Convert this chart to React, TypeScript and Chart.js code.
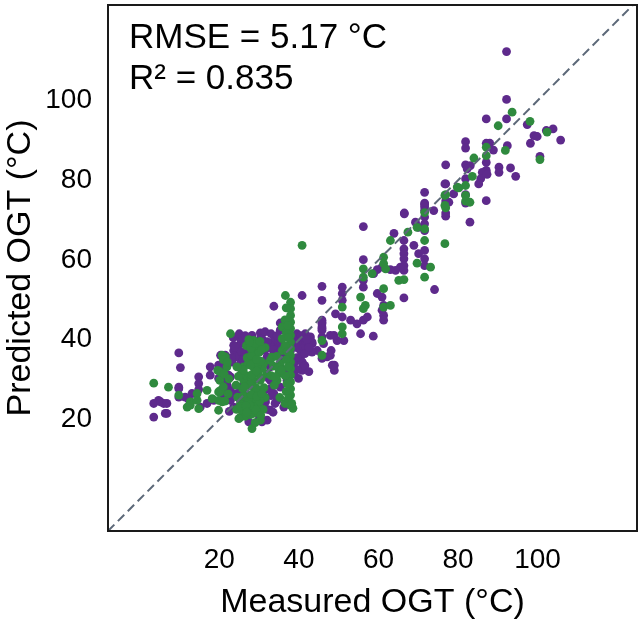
import React, { useEffect, useRef } from 'react';
import { Chart, registerables } from 'chart.js';

Chart.register(...registerables);

const TICKS = [20, 40, 60, 80, 100];
const X_RANGE = [-8, 125];
const Y_RANGE = [-8, 124];
const DIAG = [-8, 125];
const X_TITLE = 'Measured OGT (°C)';
const Y_TITLE = 'Predicted OGT (°C)';
const STAT_LINES = ['RMSE = 5.17 °C', 'R² = 0.835'];

const purplePts: [number, number][] = [
  [92.2, 112.3], [92.2, 100.3], [87.1, 95.4], [92.2, 95.4], [97.4, 94.0], [99.1, 91.2], [99.9, 91.0],
  [98.2, 89.3], [102.2, 92.5], [103.9, 92.9], [105.8, 90.1], [100.6, 86.0], [81.9, 89.7], [81.9, 88.1],
  [87.1, 89.3], [88.0, 89.3], [88.9, 87.6], [92.4, 88.7], [81.9, 83.9], [83.1, 83.7], [82.3, 82.9],
  [87.1, 84.5], [87.1, 82.5], [86.1, 82.0], [87.3, 81.5], [90.3, 83.3], [90.3, 82.0], [93.2, 83.1],
  [94.5, 81.0], [85.7, 80.4], [85.2, 79.1], [76.9, 83.9], [76.9, 79.1], [81.9, 80.4], [78.9, 76.6],
  [81.9, 76.4], [81.9, 74.3], [87.1, 74.9], [71.6, 77.0], [71.6, 74.3], [71.6, 73.3], [76.9, 74.8],
  [77.7, 74.5], [73.9, 72.4], [66.5, 71.8], [76.9, 71.8], [76.9, 71.0],
  [76.7, 79.1], [71.6, 73.9], [71.6, 72.4], [66.5, 71.6], [71.6, 70.8], [71.6, 69.1], [71.6, 67.4],
  [69.3, 69.5], [70.1, 68.2], [83.0, 69.5], [56.2, 68.4], [63.9, 66.7], [66.4, 64.9], [66.4, 62.8],
  [66.4, 61.6], [66.4, 60.3], [66.4, 58.6], [66.4, 57.4], [68.9, 63.7], [70.1, 61.6], [71.6, 62.4],
  [71.6, 60.3], [71.6, 58.6], [65.5, 58.2], [64.3, 57.4], [63.0, 57.6], [60.9, 58.2], [59.7, 57.6],
  [58.8, 56.6], [56.2, 60.1], [56.2, 54.9], [56.2, 53.2], [59.7, 51.6], [60.9, 50.7], [61.3, 48.6],
  [60.9, 47.4], [61.3, 46.1], [61.3, 44.9], [66.4, 50.5], [74.1, 52.6], [50.9, 53.2], [50.9, 51.6],
  [50.9, 49.9], [45.8, 53.4], [45.8, 49.9], [40.8, 51.1], [49.2, 46.5], [50.9, 45.7], [53.0, 44.9],
  [54.6, 44.0], [56.2, 44.9], [57.2, 45.7], [45.8, 44.9], [45.8, 43.2], [47.9, 41.1], [45.8, 40.7],
  [55.5, 41.5], [58.7, 40.9], [51.3, 39.8], [48.8, 41.1], [49.6, 39.8], [41.6, 41.5], [42.1, 39.8],
  [43.3, 39.0], [40.8, 38.2], [48.1, 37.3], [48.9, 33.6], [48.9, 32.3], [40.8, 36.5], [40.8, 34.4],
  [40.8, 32.8],
  [33.7, 48.4], [35.3, 44.2], [35.3, 42.4], [30.3, 41.7], [30.3, 40.3], [28.2, 41.1], [26.1, 40.3],
  [25.3, 39.0], [23.6, 37.3], [24.5, 35.7], [25.3, 34.0], [20.3, 36.1], [21.5, 34.8], [17.7, 33.2],
  [17.7, 31.1], [9.8, 36.7], [10.2, 33.0], [14.8, 30.7], [14.8, 29.0], [14.8, 27.5], [13.1, 26.5],
  [12.3, 25.0], [11.4, 25.6], [9.8, 27.7], [4.7, 24.8], [3.5, 24.0], [6.0, 24.0], [3.5, 20.6],
  [6.4, 21.5], [15.2, 23.1], [16.9, 24.0], [18.6, 24.8], [21.1, 26.5], [22.8, 27.3], [21.9, 29.8],
  [22.8, 30.7],
  [24.5, 38.2], [26.1, 36.5], [27.8, 34.8], [30.7, 37.3], [32.0, 35.7], [32.8, 33.2], [33.7, 39.8],
  [34.5, 38.2], [35.8, 35.7], [36.2, 32.3], [32.8, 29.8], [31.1, 27.3], [33.7, 26.5], [31.1, 24.0],
  [29.5, 21.5], [32.8, 22.3], [27.0, 29.8], [25.3, 28.1], [24.5, 26.5], [22.8, 24.8], [23.6, 23.1],
  [26.1, 24.8], [27.8, 23.1], [39.5, 41.5], [39.5, 39.0], [40.4, 37.3], [40.4, 34.8], [40.8, 32.3],
  [41.2, 39.8], [42.9, 40.7], [43.3, 39.0], [44.6, 37.3], [45.8, 44.0], [45.8, 42.4], [46.2, 39.0],
  [47.1, 35.7], [37.9, 37.3], [38.7, 34.0], [38.7, 31.5], [37.0, 29.8], [35.3, 28.1], [34.5, 24.8],
  [36.2, 23.1], [32.0, 19.8], [29.9, 19.8],
  [5.2, 24.4], [6.8, 24.0], [6.8, 21.5], [9.8, 28.1], [9.8, 25.6],
  [25.3, 40.3], [23.6, 38.6], [21.5, 36.1], [19.8, 33.6], [19.8, 30.3], [22.3, 31.1], [23.2, 26.1],
  [30.7, 40.3], [32.8, 38.6], [33.7, 36.9], [34.9, 39.4], [39.5, 41.1], [41.6, 39.8], [43.3, 39.4],
  [40.8, 37.8], [40.8, 34.4], [43.3, 36.9], [45.8, 44.4], [45.8, 42.8], [45.8, 35.3], [47.9, 36.1],
  [48.4, 33.6], [31.6, 24.4], [30.7, 19.4], [27.4, 19.4], [29.9, 21.9], [32.4, 30.3], [39.9, 30.3],
  [29.1, 39.4], [27.4, 36.9], [32.4, 34.4], [32.8, 27.7], [23.2, 34.4], [21.5, 29.4],
  [23.5, 40.5], [25.0, 41.5], [26.5, 41.0], [24.0, 38.0], [25.5, 37.0], [27.0, 38.5], [23.0, 35.5],
  [26.0, 35.0], [27.5, 36.0], [31.5, 42.0], [33.0, 41.5], [34.5, 41.0], [32.0, 39.5], [35.5, 39.0],
  [31.5, 37.5], [33.5, 37.5], [35.0, 36.8], [39.0, 40.5], [40.5, 41.0], [42.0, 40.0], [39.5, 38.0],
  [41.5, 36.5], [42.5, 38.0], [39.5, 35.5], [41.5, 33.5], [42.5, 32.0], [39.5, 32.5], [31.5, 27.5],
  [33.0, 26.0], [34.0, 24.0], [32.0, 22.5], [33.5, 21.8], [31.5, 25.0], [21.0, 33.0], [20.5, 31.0],
  [22.0, 28.5], [21.0, 25.5], [22.5, 22.0],
];

const greenPts: [number, number][] = [
  [93.6, 97.1], [98.1, 94.8], [90.1, 93.7], [102.4, 92.1], [87.1, 88.3], [87.1, 86.2], [91.9, 87.5],
  [84.0, 85.6], [100.6, 85.2], [83.6, 81.0], [81.9, 78.7], [80.2, 78.1], [76.9, 76.4], [81.9, 74.8],
  [83.0, 74.5], [76.9, 73.1], [71.6, 71.9],
  [40.8, 63.7], [76.7, 76.2], [76.7, 73.7], [79.8, 78.3], [81.9, 76.2], [76.7, 64.1], [71.6, 67.8],
  [71.6, 64.9], [69.7, 68.2], [67.4, 67.0], [63.0, 64.9], [61.3, 60.7], [61.3, 59.1], [61.8, 57.8],
  [69.7, 59.2], [73.1, 58.2], [71.6, 55.7], [65.1, 54.9], [66.4, 55.1], [56.2, 57.8], [56.2, 55.7],
  [58.4, 56.6], [61.3, 52.8], [61.3, 48.2], [63.0, 48.6], [55.5, 50.7], [56.7, 48.6], [56.2, 47.8],
  [50.9, 48.2], [50.9, 43.2], [50.9, 41.5], [45.8, 39.8], [45.8, 36.1],
  [36.6, 51.1], [37.9, 49.4], [37.9, 47.8], [37.9, 46.1], [37.9, 44.4], [37.9, 42.8], [37.9, 41.1],
  [37.9, 39.4], [37.9, 37.8], [37.9, 36.1], [37.9, 34.4], [37.9, 32.8], [37.9, 31.1], [37.9, 29.4],
  [37.9, 27.7], [37.9, 26.1], [37.9, 23.6], [35.8, 43.2], [35.8, 40.3], [35.8, 37.3], [35.3, 34.0],
  [34.9, 31.5], [34.5, 29.8], [22.8, 41.5], [21.5, 35.7], [21.9, 33.2],
  [28.6, 39.8], [28.6, 38.2], [28.6, 36.5], [28.6, 34.8], [28.6, 33.2], [28.6, 31.5], [28.6, 29.8],
  [28.6, 28.1], [28.6, 26.5], [28.6, 24.8], [28.6, 23.1], [28.6, 21.5],
  [26.1, 33.2], [26.1, 29.8], [26.5, 26.5], [25.3, 24.0], [31.1, 34.0], [32.0, 31.5], [32.8, 34.8],
  [30.3, 29.8], [30.3, 26.5], [28.2, 17.7], [25.3, 20.6], [20.3, 27.3], [19.8, 24.8], [19.8, 22.3],
  [18.2, 25.2], [16.9, 27.3], [14.4, 26.5], [12.7, 24.4], [11.9, 23.1], [9.8, 26.1], [7.2, 28.1],
  [3.5, 29.1], [19.6, 32.3], [20.1, 29.8], [12.7, 23.6], [14.8, 22.7], [14.4, 24.8], [30.3, 19.8],
  [26.0, 22.0], [27.2, 25.0], [29.8, 23.5], [31.0, 22.5], [25.8, 27.8], [27.5, 28.5], [29.5, 27.0],
  [31.2, 28.0], [26.8, 31.0], [28.0, 30.5], [29.8, 31.5], [30.8, 32.8], [27.0, 35.5], [29.5, 33.5],
  [30.0, 36.8], [26.8, 38.5], [29.8, 38.5], [27.4, 40.0], [31.5, 25.5], [26.5, 20.8], [29.0, 19.2],
  [31.5, 38.0], [25.5, 31.5], [27.2, 33.8],
  [36.8, 48.0], [36.5, 45.0], [36.8, 41.8], [36.5, 38.5], [36.8, 35.0], [36.5, 31.0], [36.8, 27.0],
  [36.5, 24.0], [35.2, 25.5], [38.5, 22.8],
  [20.7, 36.1], [20.2, 31.9], [19.8, 26.9], [20.7, 24.4], [24.9, 20.2], [20.2, 26.9],
  [27.8, 21.2], [29.2, 22.4], [30.4, 21.0], [27.6, 23.6], [30.2, 24.6], [28.0, 26.2], [29.4, 25.8],
  [30.6, 26.6], [27.7, 28.8], [29.2, 28.0], [30.5, 30.4], [28.1, 31.2], [29.3, 32.2], [27.8, 33.6],
  [30.4, 34.6], [28.0, 36.0], [29.3, 35.0], [30.6, 37.6], [27.9, 37.8], [29.1, 39.0], [30.2, 39.6],
  [27.6, 39.4], [37.2, 43.6], [37.4, 40.6], [37.1, 37.0], [37.3, 33.2], [37.0, 29.0], [37.3, 25.2],
  [38.2, 24.0], [24.3, 22.5], [25.4, 23.2], [26.7, 23.4], [24.6, 25.6], [25.9, 25.8], [24.2, 28.6],
  [26.3, 28.2], [24.8, 30.8], [26.0, 32.4], [24.4, 33.2], [26.9, 21.8], [33.2, 35.6], [34.4, 35.8],
  [33.6, 33.4], [34.8, 33.0], [33.0, 31.0], [34.0, 30.6], [35.6, 32.4], [33.8, 28.6], [21.0, 35.0],
  [22.0, 34.4], [21.2, 31.4], [22.4, 30.2], [21.0, 28.2], [22.2, 26.4], [21.4, 24.6],
];

const FONT = "'Liberation Sans', Arial, Helvetica, sans-serif";
const PURPLE = '#5e2a8c';
const GREEN = '#2f8a3e';

const framePlugin = {
  id: 'frameAndStats',
  afterDraw(chart: any) {
    const { ctx, chartArea } = chart;
    ctx.save();
    ctx.strokeStyle = '#1a1a1a';
    ctx.lineWidth = 2;
    ctx.strokeRect(chartArea.left, chartArea.top, chartArea.right - chartArea.left, chartArea.bottom - chartArea.top);
    ctx.fillStyle = '#000';
    ctx.font = `35px ${FONT}`;
    ctx.textBaseline = 'alphabetic';
    ctx.textAlign = 'left';
    STAT_LINES.forEach((t, i) => {
      ctx.fillText(t, chartArea.left + 21, chartArea.top + 43 + i * 41);
    });
    ctx.restore();
  },
};

export default function App() {
  const ref = useRef<HTMLCanvasElement | null>(null);
  useEffect(() => {
    document.body.style.margin = '0';
    if (!ref.current) return;
    const chart = new Chart(ref.current, {
      type: 'scatter',
      data: {
        datasets: [
          {
            type: 'line',
            data: DIAG.map((v) => ({ x: v, y: v })),
            borderColor: '#5c6878',
            borderWidth: 2,
            borderDash: [9, 5],
            pointRadius: 0,
            fill: false,
            order: 0,
          } as any,
          {
            data: greenPts.map(([x, y]) => ({ x, y })),
            backgroundColor: GREEN,
            borderWidth: 0,
            pointRadius: 4.4,
            order: 1,
          },
          {
            data: purplePts.map(([x, y]) => ({ x, y })),
            backgroundColor: PURPLE,
            borderWidth: 0,
            pointRadius: 4.4,
            order: 2,
          },
        ],
      },
      options: {
        animation: false,
        responsive: false,
        devicePixelRatio: 1,
        layout: { padding: { left: 0, right: 6, top: 5, bottom: 0 } },
        plugins: { legend: { display: false }, tooltip: { enabled: false } },
        scales: {
          x: {
            type: 'linear',
            min: X_RANGE[0],
            max: X_RANGE[1],
            grid: { display: false, drawTicks: false },
            border: { display: false },
            afterBuildTicks: (s: any) => { s.ticks = TICKS.map((v) => ({ value: v })); },
            afterFit: (s: any) => { s.height = 96; s.paddingLeft = 0; s.paddingRight = 0; },
            ticks: { font: { family: FONT, size: 28 }, color: '#000', padding: 12, maxRotation: 0 },
            title: { display: true, text: X_TITLE, font: { family: FONT, size: 34 }, color: '#000', padding: { top: 0, bottom: 4 } },
          },
          y: {
            type: 'linear',
            min: Y_RANGE[0],
            max: Y_RANGE[1],
            grid: { display: false, drawTicks: false },
            border: { display: false },
            afterBuildTicks: (s: any) => { s.ticks = TICKS.map((v) => ({ value: v })); },
            afterFit: (s: any) => { s.width = 108; s.paddingTop = 0; s.paddingBottom = 0; },
            ticks: { font: { family: FONT, size: 28 }, color: '#000', padding: 16 },
            title: { display: true, text: Y_TITLE, font: { family: FONT, size: 34 }, color: '#000', padding: { top: 0, bottom: 0 } },
          },
        },
      },
      plugins: [framePlugin],
    } as any);
    return () => chart.destroy();
  }, []);
  return (
    <div style={{ width: 643, height: 627, background: '#fff' }}>
      <canvas ref={ref} width={643} height={627} style={{ display: 'block' }} />
    </div>
  );
}
